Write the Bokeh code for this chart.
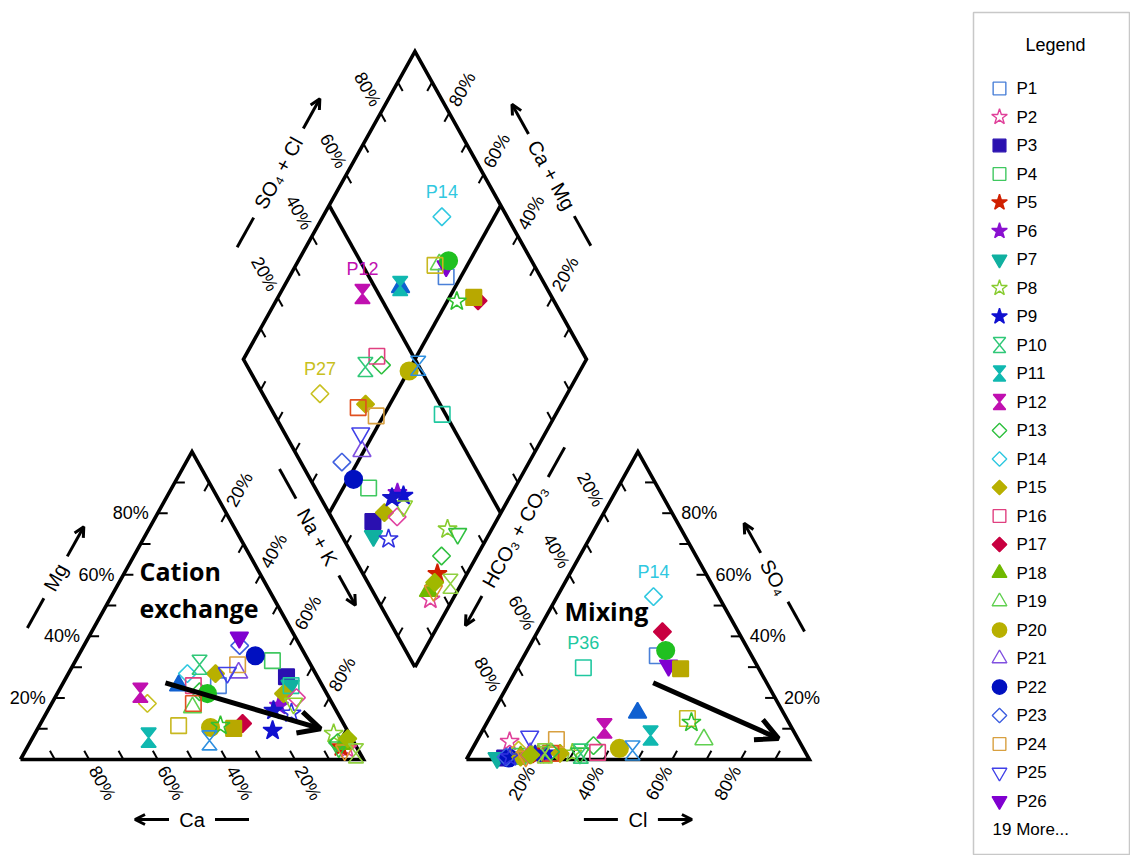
import math
from bokeh.plotting import figure
from bokeh.models import ColumnDataSource, Range1d, Arrow, OpenHead
from bokeh.layouts import row
from bokeh.embed import file_html
from bokeh.resources import INLINE
from bokeh.core.properties import value

# ---------------------------------------------------------------- data
SAMPLES = ["P%d" % i for i in range(1, 46)]
# cations (% meq): Ca, Mg  (Na+K = 100 - Ca - Mg)
CA = [30.3, 3.0, 9.0, 10.5, 4.6, 15.9, 9.4, 4.5, 21.8, 32.4,
      59.1, 54.2, 36.8, 37.4, 29.2, 37.6, 29.4, 3.4, 41.4, 39.4,
      22.3, 14.7, 17.6, 21.3, 25.6, 16.4, 53.9, 34.8, 48.4, 41.9,
      40.5, 41.8, 32.8, 36.2, 12.6, 9.1, 9.5, 13.5, 11.3, 5.2,
      4.8, 4.0, 1.2, 18.3, 1.2]
MG = [24.0, 3.5, 26.9, 32.1, 4.0, 17.5, 24.0, 8.4, 9.4, 30.8,
      7.1, 21.7, 22.0, 27.9, 27.9, 24.0, 11.7, 5.0, 16.9, 10.4,
      28.2, 33.7, 37.0, 30.8, 28.2, 39.6, 18.2, 21.4, 11.0, 24.0,
      18.2, 6.2, 10.1, 11.0, 21.4, 24.0, 20.1, 15.0, 18.2, 4.0,
      5.5, 3.0, 2.0, 15.9, 6.8]
# anions (% meq): Cl, SO4  (HCO3+CO3 = 100 - Cl - SO4)
CL = [38.8, 9.7, 10.9, 14.6, 20.2, 21.7, 8.7, 29.9, 22.5, 32.4,
      49.8, 35.2, 34.8, 28.1, 26.3, 37.1, 36.4, 15.3, 66.0, 42.8,
      17.6, 12.1, 11.2, 23.0, 14.7, 43.7, 13.7, 40.4, 57.8, 42.3,
      23.6, 47.0, 47.7, 59.6, 15.4, 19.2, 17.7, 12.3, 20.3, 32.1,
      23.3, 16.8, 21.9, 19.3, 18.0]
SO4 = [33.7, 5.8, 0.5, 1.0, 1.5, 1.5, 0.5, 2.0, 2.0, 1.9,
       7.8, 10.1, 4.5, 52.9, 2.0, 2.3, 41.5, 1.0, 6.5, 3.6,
       2.0, 0.5, 0.8, 6.5, 7.5, 30.5, 3.0, 35.4, 13.3, 15.2,
       2.0, 2.9, 29.5, 12.0, 0.8, 29.8, 1.5, 0.8, 2.5, 2.0,
       2.5, 1.0, 2.0, 1.5, 1.5]

TICK_STEPS = [10, 20, 30, 40, 50, 60, 70, 80, 90]
TICK_LABELS = {20: "20%", 40: "40%", 60: "60%", 80: "80%"}

LABELS_DIAMOND = ["P14", "P12", "P27"]
LABELS_ANION = ["P14", "P36"]

# process arrows, in composition terms
CATION_TREND_MG = [24.9, 10.0]
CATION_TREND_NAK = [29.8, 82.5]
ANION_TREND_CL = [42.0, 87.6]
ANION_TREND_SO4 = [24.9, 6.8]

LEGEND_SHOWN = 26

# ---------------------------------------------------------------- styles
MARKERS = ["square", "star", "square", "square", "star", "star", "inverted_triangle", "star", "star", "hourglass",
           "hourglass", "hourglass", "diamond", "diamond", "diamond", "square", "diamond", "triangle", "triangle", "circle",
           "triangle", "circle", "diamond", "square", "inverted_triangle", "inverted_triangle", "diamond", "circle", "square", "triangle",
           "square", "hourglass", "square", "star", "diamond", "square", "diamond", "star", "inverted_triangle", "inverted_triangle",
           "diamond", "inverted_triangle", "hourglass", "star", "diamond"]
FILLED = [0, 0, 1, 0, 1, 1, 1, 0, 1, 0,
          1, 1, 0, 0, 1, 0, 1, 1, 0, 1,
          0, 1, 0, 0, 0, 1, 0, 1, 0, 1,
          0, 0, 1, 0, 1, 0, 0, 0, 0, 0,
          0, 0, 0, 1, 1]
COLORS = ["#4a80d8", "#e0409a", "#2a10b0", "#40c860", "#d02000", "#8a10d0", "#10b0a0", "#88cc30", "#1010d0", "#30c878",
          "#10b8b0", "#c010b0", "#30c040", "#30c8e0", "#b8b000", "#e04080", "#c80040", "#70b800", "#60d050", "#b8b000",
          "#8050e0", "#0010c0", "#4060e0", "#d8a040", "#4040e8", "#8000d0", "#c8c020", "#20c020", "#c8b820", "#1060d0",
          "#e05020", "#3090e0", "#b8a800", "#30c030", "#b0b000", "#20c8a0", "#e040a0", "#3030e0", "#90d030", "#30c040",
          "#30c040", "#e09030", "#90d040", "#1515c8", "#a0b800"]
GLYPH = {"square": ("square", 15.5, 0.0), "diamond": ("square", 12.5, math.pi / 4),
         "circle": ("circle", 17.5, 0.0), "triangle": ("triangle", 18, 0.0),
         "inverted_triangle": ("inverted_triangle", 18, 0.0), "star": ("star", 20, 0.0)}
FONT = "Liberation Sans"

# ---------------------------------------------------------------- geometry
SQ = math.sqrt(3) / 2
GAP = 30.0
AX0 = 100 + GAP
BX, BY = 100 + GAP / 2, GAP / 2 * math.sqrt(3)


def cation_xy(ca, mg):
    nak = 100 - ca - mg
    return nak + 0.5 * mg, SQ * mg


def anion_xy(cl, so4):
    return AX0 + cl + 0.5 * so4, SQ * so4


def diamond_xy(ca, mg, cl, so4):
    camg, sc = ca + mg, cl + so4
    return BX + 0.5 * (sc - camg), BY + SQ * (sc + camg)


LCA, LNA, LMG = (0.0, 0.0), (100.0, 0.0), (50.0, 100 * SQ)
RHC, RCL, RSO = (AX0, 0.0), (AX0 + 100, 0.0), (AX0 + 50, 100 * SQ)
DB, DR, DL, DT = (BX, BY), (BX + 50, BY + 100 * SQ), (BX - 50, BY + 100 * SQ), (BX, BY + 200 * SQ)
LC = (50.0, 100 * SQ / 3)
RC = (AX0 + 50, 100 * SQ / 3)
DC = (BX, BY + 100 * SQ)

SX, SY = 3.43, 3.555          # pixels per unit
W_MAIN, W_LEG, H = 972, 158, 855
B_T, B_B = 12, 1              # shared top/bottom borders (row aligns frames)
FRAME_H = H - B_T - B_B
OX_PX, OY_PX = 20, 759 - B_T  # data origin inside the main frame

p = figure(width=W_MAIN, height=H, title=None,
           x_range=Range1d(-OX_PX / SX, (W_MAIN - OX_PX) / SX),
           y_range=Range1d(-(FRAME_H - OY_PX) / SY, OY_PX / SY),
           toolbar_location=None, output_backend="svg",
           min_border_left=0, min_border_right=0, min_border_top=B_T, min_border_bottom=B_B,
           x_axis_location=None, y_axis_location=None, outline_line_color=None)
p.grid.visible = False


def mid(a, b):
    return ((a[0] + b[0]) / 2, (a[1] + b[1]) / 2)


def to_px(v):
    return (v[0] * SX, v[1] * SY)


def from_px(v):
    return (v[0] / SX, v[1] / SY)


def unit(v):
    n = math.hypot(v[0], v[1])
    return (v[0] / n, v[1] / n)


def upright(a):
    while a > math.pi / 2 + 1e-9:
        a -= math.pi
    while a <= -math.pi / 2 + 1e-9:
        a += math.pi
    return a


OUT = dict(line_color="black", line_width=3.6, line_join="miter")
for shape in ([LCA, LNA, LMG], [RHC, RCL, RSO], [DB, DR, DT, DL]):
    p.line([q[0] for q in shape] + [shape[0][0]], [q[1] for q in shape] + [shape[0][1]], **OUT)
for a, b in ((mid(DL, DT), mid(DB, DR)), (mid(DR, DT), mid(DB, DL))):
    p.line([a[0], b[0]], [a[1], b[1]], **OUT)

# ticks and tick labels
EDGES = [
    (LNA, LCA, (-0.5, SQ), True),
    (LCA, LMG, (1.0, 0.0), True),
    (LMG, LNA, (-0.5, -SQ), True),
    (RHC, RCL, (0.5, SQ), True),
    (RCL, RSO, (-1.0, 0.0), True),
    (RSO, RHC, (0.5, -SQ), True),
    (DL, DT, (0.5, -SQ), True),
    (DR, DT, (-0.5, -SQ), True),
    (DB, DL, (0.5, SQ), False),
    (DB, DR, (-0.5, SQ), False),
]
TICK_PX, LABEL_PX = 10, 27
tk = dict(x0=[], y0=[], x1=[], y1=[])
tl = dict(x=[], y=[], text=[], angle=[])
for e0, e1, inward, labelled in EDGES:
    iu = unit(to_px(inward))
    tvec = from_px((iu[0] * TICK_PX, iu[1] * TICK_PX))
    lvec = from_px((-iu[0] * LABEL_PX, -iu[1] * LABEL_PX))
    ang = upright(math.atan2(iu[1], iu[0]))
    for v in TICK_STEPS:
        f = v / 100
        px_, py_ = e0[0] + (e1[0] - e0[0]) * f, e0[1] + (e1[1] - e0[1]) * f
        tk["x0"].append(px_); tk["y0"].append(py_)
        tk["x1"].append(px_ + tvec[0]); tk["y1"].append(py_ + tvec[1])
        if labelled and v in TICK_LABELS:
            tl["x"].append(px_ + lvec[0]); tl["y"].append(py_ + lvec[1])
            tl["text"].append(TICK_LABELS[v]); tl["angle"].append(ang)
p.segment("x0", "y0", "x1", "y1", source=ColumnDataSource(tk), line_color="black", line_width=2)
p.text("x", "y", text="text", angle="angle", source=ColumnDataSource(tl), text_align="center",
       text_baseline="middle", text_font=value(FONT), text_font_size="18px", text_color="black")

# axis titles with dash + arrow
TITLES = [
    (LCA, LMG, 0.50, 58, "Mg", 13, LC),
    (LNA, LCA, 0.50, 60, "Ca", 12, LC),
    (LMG, LNA, 0.385, 68, "Na + K", 33, LC),
    (RHC, RCL, 0.50, 60, "Cl", 9, RC),
    (RCL, RSO, 0.50, 58, "SO\u2084", 17, RC),
    (RSO, RHC, 0.38, 66, "HCO\u2083 + CO\u2083", 57, RC),
    (DL, DT, 0.51, 60, "SO\u2084 + Cl", 40, DC),
    (DR, DT, 0.505, 59, "Ca + Mg", 36, DC),
]
GAP_T, LEN_T = 11, 34
tt = dict(x=[], y=[], text=[], angle=[])
for e0, e1, s, npx, text, half, cen in TITLES:
    p0, p1, pc = to_px(e0), to_px(e1), to_px(cen)
    d = (p1[0] - p0[0], p1[1] - p0[1])
    L = math.hypot(*d)
    t = unit(d)
    n = (-t[1], t[0])
    pm = ((p0[0] + p1[0]) / 2, (p0[1] + p1[1]) / 2)
    if (pm[0] - pc[0]) * n[0] + (pm[1] - pc[1]) * n[1] < 0:
        n = (-n[0], -n[1])
    c = (p0[0] + t[0] * L * s + n[0] * npx, p0[1] + t[1] * L * s + n[1] * npx)

    def at(k):
        return from_px((c[0] + t[0] * k, c[1] + t[1] * k))

    cd = from_px(c)
    tt["x"].append(cd[0]); tt["y"].append(cd[1]); tt["text"].append(text)
    tt["angle"].append(upright(math.atan2(t[1], t[0])))
    a, b = at(-(half + GAP_T + LEN_T)), at(-(half + GAP_T))
    p.line([a[0], b[0]], [a[1], b[1]], line_color="black", line_width=3)
    a, b = at(half + GAP_T), at(half + GAP_T + LEN_T)
    p.add_layout(Arrow(end=OpenHead(size=10, line_width=3, line_color="black"),
                       x_start=a[0], y_start=a[1], x_end=b[0], y_end=b[1],
                       line_width=3, line_color="black"))
p.text("x", "y", text="text", angle="angle", source=ColumnDataSource(tt), text_align="center",
       text_baseline="middle", text_font=value(FONT), text_font_size="20px", text_color="black")


# ---------------------------------------------------------------- samples
def draw_samples(fig, pts, scale, hw, hh, lw):
    sc = dict(x=[], y=[], marker=[], size=[], angle=[], color=[], alpha=[])
    hg = dict(xs=[], ys=[], color=[], alpha=[])
    for x, y, i in pts:
        m, col, al = MARKERS[i], COLORS[i], 1.0 if FILLED[i] else 0.0
        if m == "hourglass":
            hg["xs"].append([x - hw, x + hw, x, x + hw, x - hw, x])
            hg["ys"].append([y + hh, y + hh, y, y - hh, y - hh, y])
            hg["color"].append(col); hg["alpha"].append(al)
        else:
            gm, size, ang = GLYPH[m]
            sc["x"].append(x); sc["y"].append(y); sc["marker"].append(gm)
            sc["size"].append(size * scale); sc["angle"].append(ang)
            sc["color"].append(col); sc["alpha"].append(al)
    fig.scatter("x", "y", marker="marker", size="size", angle="angle", line_color="color",
                fill_color="color", fill_alpha="alpha", line_width=lw, source=ColumnDataSource(sc))
    fig.patches("xs", "ys", line_color="color", fill_color="color", fill_alpha="alpha",
                line_width=lw, source=ColumnDataSource(hg))


pts = []
for i in range(len(SAMPLES)):
    x, y = cation_xy(CA[i], MG[i]); pts.append((x, y, i))
for i in range(len(SAMPLES)):
    x, y = anion_xy(CL[i], SO4[i]); pts.append((x, y, i))
for i in range(len(SAMPLES)):
    x, y = diamond_xy(CA[i], MG[i], CL[i], SO4[i]); pts.append((x, y, i))
draw_samples(p, pts, 1.0, 7.5 / SX, 9.5 / SY, 1.6)

# sample name labels
sl = dict(x=[], y=[], text=[], color=[])
for name in LABELS_DIAMOND:
    i = SAMPLES.index(name)
    x, y = diamond_xy(CA[i], MG[i], CL[i], SO4[i])
    sl["x"].append(x); sl["y"].append(y + 25 / SY); sl["text"].append(name); sl["color"].append(COLORS[i])
for name in LABELS_ANION:
    i = SAMPLES.index(name)
    x, y = anion_xy(CL[i], SO4[i])
    sl["x"].append(x); sl["y"].append(y + 25 / SY); sl["text"].append(name); sl["color"].append(COLORS[i])
p.text("x", "y", text="text", text_color="color", source=ColumnDataSource(sl), text_align="center",
       text_baseline="middle", text_font=value(FONT), text_font_size="18px")

# process arrows
c0 = (CATION_TREND_NAK[0] + 0.5 * CATION_TREND_MG[0], SQ * CATION_TREND_MG[0])
c1 = (CATION_TREND_NAK[1] + 0.5 * CATION_TREND_MG[1], SQ * CATION_TREND_MG[1])
a0 = anion_xy(ANION_TREND_CL[0], ANION_TREND_SO4[0])
a1 = anion_xy(ANION_TREND_CL[1], ANION_TREND_SO4[1])
for s0, s1 in ((c0, c1), (a0, a1)):
    p.add_layout(Arrow(end=OpenHead(size=22, line_width=5, line_color="black"),
                       x_start=s0[0], y_start=s0[1], x_end=s1[0], y_end=s1[1],
                       line_width=5, line_color="black"))

# process names
p.text(x=[34.7, 34.7], y=[53.1, 42.7], text=["Cation", "exchange"], text_align="left",
       text_baseline="middle", text_font=value("Open Sans"), text_font_style="bold",
       text_font_size="25px", text_color="black")
p.text(x=[170.8], y=[41.9], text=["Mixing"], text_align="center",
       text_baseline="middle", text_font=value("Open Sans"), text_font_style="bold",
       text_font_size="25px", text_color="black")

# ---------------------------------------------------------------- legend panel
B_L, B_R = 1, 1
LW_IN = W_LEG - B_L - B_R
leg = figure(width=W_LEG, height=H, title=None, x_range=Range1d(0, LW_IN), y_range=Range1d(FRAME_H, 0),
             toolbar_location=None, output_backend="svg", min_border_left=B_L, min_border_right=B_R,
             min_border_top=B_T, min_border_bottom=B_B, x_axis_location=None, y_axis_location=None,
             outline_line_color="#c8c8c8", outline_line_width=1.5)
leg.grid.visible = False
ROW0, STEP = 76, 28.5
rows_y = [ROW0 + STEP * k for k in range(LEGEND_SHOWN)]
draw_samples(leg, [(26, rows_y[k], k) for k in range(LEGEND_SHOWN)], 0.82, 6.2, 7.5, 1.4)
leg.text(x=[43] * LEGEND_SHOWN, y=rows_y, text=SAMPLES[:LEGEND_SHOWN], text_align="left",
         text_baseline="middle", text_font=value(FONT), text_font_size="17px", text_color="black")
leg.text(x=[82], y=[32], text=["Legend"], text_align="center", text_baseline="middle",
         text_font=value(FONT), text_font_size="18px", text_color="black")
leg.text(x=[19], y=[ROW0 + STEP * LEGEND_SHOWN], text=["%d More..." % (len(SAMPLES) - LEGEND_SHOWN)],
         text_align="left", text_baseline="middle", text_font=value(FONT), text_font_size="17px",
         text_color="black")

layout = row(p, leg)
open("out.html", "w").write(file_html(layout, INLINE))
